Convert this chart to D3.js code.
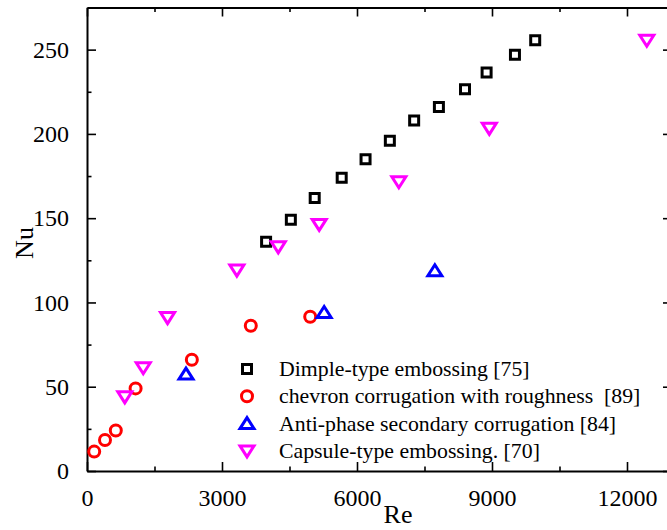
<!DOCTYPE html>
<html>
<head>
<meta charset="utf-8">
<script src="https://cdn.jsdelivr.net/npm/d3@7"></script>
<style>
  body { margin: 0; background: #fff; }
  svg text { font-family: "Liberation Serif", "Times New Roman", serif; fill: #000; }
</style>
</head>
<body>
<div id="chart"></div>
<script>
// Data
var dimpleRe = [3980, 4530, 5060, 5660, 6190, 6730, 7270, 7820, 8400, 8880, 9510, 9960];
var dimpleNu = [136, 149, 162, 174, 185, 196, 208, 216, 226.5, 236.5, 247, 255.6];

var chevronRe = [160, 400, 640, 1080, 2330, 3640, 4960];
var chevronNu = [11.5, 18.4, 24, 49, 66, 86.2, 91.5];

var antiRe = [2200, 5270, 7730];
var antiNu = [57.5, 94, 118.8];

var capsuleRe = [840, 1250, 1790, 3330, 4250, 5160, 6930, 8940, 12440];
var capsuleNu = [44, 61.3, 91, 119.2, 133, 146.3, 171.6, 203.3, 255.6];

var xTicks = [0, 3000, 6000, 9000, 12000];
var yTicks = [0, 50, 100, 150, 200, 250];

var legendLabels = [
  "Dimple-type embossing [75]",
  "chevron corrugation with roughness  [89]",
  "Anti-phase secondary corrugation [84]",
  "Capsule-type embossing. [70]"
];

var width = 667, height = 530;
var margin = {left: 87, top: 7.5, right: -5, bottom: 59};
var serif = "'Liberation Serif', 'Times New Roman', serif";

var svg = d3.select("#chart")
  .append("svg")
    .attr("width", width)
    .attr("height", height);

var x = d3.scaleLinear().domain([0, 13000]).range([margin.left, width - margin.right]);
var y = d3.scaleLinear().domain([0, 275]).range([height - margin.bottom, margin.top]);

// minor ticks
var xMinor = d3.range(0, 13001, 1500).filter(function(v) { return v % 3000 !== 0; });
var yMinor = d3.range(25, 275, 50);

function drawAxis(axis, tr, labels) {
  var g = svg.append("g").attr("transform", tr).call(axis);
  g.select(".domain").attr("stroke", "#000").attr("stroke-width", 2);
  g.selectAll(".tick line").attr("stroke", "#000").attr("stroke-width", 1.6);
  g.selectAll(".tick text")
    .style("font-family", serif)
    .style("font-size", "24px")
    .style("fill", "#000");
  if (!labels) g.selectAll(".tick text").remove();
  return g;
}

// bottom
drawAxis(d3.axisBottom(x).tickValues(xTicks).tickFormat(d3.format("d"))
  .tickSize(-9).tickPadding(18).tickSizeOuter(0), "translate(0," + y(0) + ")", true);
drawAxis(d3.axisBottom(x).tickValues(xMinor).tickSize(-4.5).tickSizeOuter(0), "translate(0," + y(0) + ")", false)
  .select(".domain").remove();

// top
drawAxis(d3.axisTop(x).tickValues(xTicks).tickSize(-9).tickSizeOuter(0), "translate(0," + y(275) + ")", false);
drawAxis(d3.axisTop(x).tickValues(xMinor).tickSize(-4.5).tickSizeOuter(0), "translate(0," + y(275) + ")", false)
  .select(".domain").remove();

// left
drawAxis(d3.axisLeft(y).tickValues(yTicks).tickFormat(d3.format("d"))
  .tickSize(-9).tickPadding(18).tickSizeOuter(0), "translate(" + x(0) + ",0)", true);
drawAxis(d3.axisLeft(y).tickValues(yMinor).tickSize(-4.5).tickSizeOuter(0), "translate(" + x(0) + ",0)", false)
  .select(".domain").remove();

// right
drawAxis(d3.axisRight(y).tickValues(yTicks).tickSize(-9).tickSizeOuter(0), "translate(" + x(13000) + ",0)", false);
drawAxis(d3.axisRight(y).tickValues(yMinor).tickSize(-4.5).tickSizeOuter(0), "translate(" + x(13000) + ",0)", false)
  .select(".domain").remove();

// axis titles
svg.append("text")
  .attr("x", 398).attr("y", 523)
  .attr("text-anchor", "middle")
  .style("font-family", serif)
  .style("font-size", "26px")
  .text("Re");

svg.append("text")
  .attr("transform", "translate(33,243) rotate(-90)")
  .attr("text-anchor", "middle")
  .style("font-family", serif)
  .style("font-size", "26px")
  .text("Nu");

// marker shapes
function markerPath(kind) {
  if (kind === "square") return "M-4.5,-4.5H4.5V4.5H-4.5Z";
  if (kind === "circle") return "M5.5,0A5.5,5.5 0 1,1 -5.5,0A5.5,5.5 0 1,1 5.5,0Z";
  if (kind === "up") return "M0,-6L7,5H-7Z";
  return "M0,6L7,-5H-7Z";
}

var series = [
  {re: dimpleRe, nu: dimpleNu, kind: "square", color: "#000"},
  {re: chevronRe, nu: chevronNu, kind: "circle", color: "#ff0000"},
  {re: antiRe, nu: antiNu, kind: "up", color: "#0000ff"},
  {re: capsuleRe, nu: capsuleNu, kind: "down", color: "#ff00ff"}
];

series.forEach(function(s) {
  svg.append("g").selectAll("path")
    .data(s.re.map(function(r, i) { return [r, s.nu[i]]; }))
    .join("path")
      .attr("transform", function(d) { return "translate(" + x(d[0]) + "," + y(d[1]) + ")"; })
      .attr("d", markerPath(s.kind))
      .attr("fill", "none")
      .attr("stroke", s.color)
      .attr("stroke-width", 3);
});

// legend
var legend = svg.append("g").attr("transform", "translate(247,369)");
series.forEach(function(s, i) {
  var row = legend.append("g").attr("transform", "translate(0," + (i * 27.3) + ")");
  row.append("path")
    .attr("d", markerPath(s.kind))
    .attr("fill", "none")
    .attr("stroke", s.color)
    .attr("stroke-width", 3);
  row.append("text")
    .attr("x", 32).attr("y", 7)
    .style("font-family", serif)
    .style("font-size", "21.8px")
    .style("white-space", "pre")
    .text(legendLabels[i]);
});
</script>
</body>
</html>
